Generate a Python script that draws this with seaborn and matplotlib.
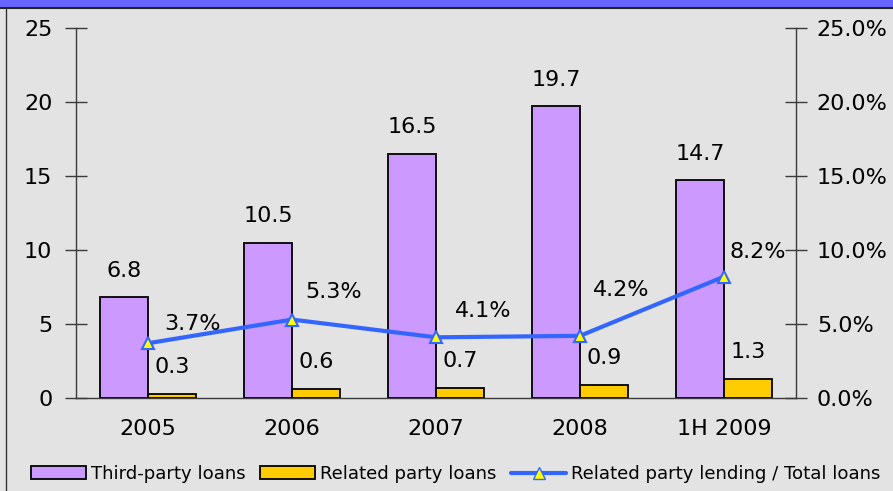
import numpy as np
import pandas as pd
import seaborn as sns
import matplotlib.pyplot as plt
from matplotlib.patches import Rectangle, Patch
from matplotlib.lines import Line2D

# data
periods = ['2005', '2006', '2007', '2008', '1H 2009']
third_party = [6.8, 10.5, 16.5, 19.7, 14.7]
related_party = [0.3, 0.6, 0.7, 0.9, 1.3]
related_ratio = [3.7, 5.3, 4.1, 4.2, 8.2]

series_names = ['Third-party loans', 'Related party loans']
ratio_name = 'Related party lending / Total loans'
bar_colors = ['#CC99FF', '#FFCC00']
line_color = '#3366FF'

df = pd.DataFrame({
    'period': periods * 2,
    'loans': third_party + related_party,
    'series': [series_names[0]] * len(periods) + [series_names[1]] * len(periods),
})

sns.set_style('white')
plt.rcParams['font.family'] = ['DejaVu Sans', 'Liberation Sans']
plt.rcParams['text.color'] = 'black'
plt.rcParams['xtick.labelcolor'] = 'black'
plt.rcParams['ytick.labelcolor'] = 'black'

bg = '#E3E3E3'
axis_col = '#3A3A3A'
fig = plt.figure(figsize=(8.93, 4.91), dpi=100, facecolor=bg)
ax = fig.add_axes([76 / 893, 1 - 398 / 491, 720 / 893, 370 / 491])
ax.set_facecolor('none')

# bars
sns.barplot(data=df, x='period', y='loans', hue='series', palette=bar_colors,
            width=0.667, gap=0, edgecolor='black', linewidth=1.3, saturation=1,
            ax=ax, legend=False)
for cont in ax.containers:
    ax.bar_label(cont, fmt='%.1f', padding=12, fontsize=16, color='black')

ax.set_xlim(-0.5, len(periods) - 0.5)
ax.set_ylim(0, 25)
ax.set_yticks(range(0, 26, 5))
ax.set_xlabel('')
ax.set_ylabel('')
ax.set_xticks(np.arange(-0.5, len(periods), 1.0), minor=True)
ax.tick_params(axis='x', which='major', length=0, pad=15, labelsize=16, labelcolor='black')
ax.tick_params(axis='x', which='minor', direction='inout', length=16, width=1, color=axis_col)
ax.tick_params(axis='y', direction='inout', length=16, width=1, color=axis_col,
               pad=9, labelsize=16, left=True, labelcolor='black')
for s in ['top', 'right']:
    ax.spines[s].set_visible(False)
for s in ['left', 'bottom']:
    ax.spines[s].set_color(axis_col)
    ax.spines[s].set_linewidth(1)

# ratio line on right axis
ax2 = ax.twinx()
sns.lineplot(x=np.arange(len(periods)), y=related_ratio, ax=ax2, color=line_color,
             linewidth=3, marker='^', markersize=9, markerfacecolor='yellow',
             markeredgecolor=line_color, markeredgewidth=1.5)
ax2.set_ylim(0, 25)
ax2.set_yticks(range(0, 26, 5))
ax2.set_yticklabels([f'{v:.1f}%' for v in range(0, 26, 5)])
ax2.tick_params(axis='y', direction='inout', length=16, width=1, color=axis_col,
                pad=7, labelsize=16, right=True, labelcolor='black')
for s in ['top', 'left', 'bottom']:
    ax2.spines[s].set_visible(False)
ax2.spines['right'].set_color(axis_col)
ax2.spines['right'].set_linewidth(1)

offsets = [(32, 14), (30, 20), (34, 19), (30, 33), (24, 18)]
for i, (v, off) in enumerate(zip(related_ratio, offsets)):
    ax2.annotate(f'{v:.1f}%', (i, v), xytext=off, textcoords='offset points',
                 ha='center', va='center', fontsize=16, color='black')

# legend
handles = [Patch(facecolor=bar_colors[0], edgecolor='black', linewidth=1.3, label=series_names[0]),
           Patch(facecolor=bar_colors[1], edgecolor='black', linewidth=1.3, label=series_names[1]),
           Line2D([], [], color=line_color, lw=3, marker='^', markersize=9,
                  markerfacecolor='yellow', markeredgecolor=line_color, label=ratio_name)]
fig.legend(handles=handles, loc='center', bbox_to_anchor=(456 / 893, 1 - 474 / 491),
           ncol=3, frameon=False, fontsize=13.1, handlelength=3, handletextpad=0.3,
           columnspacing=0.8, borderaxespad=0, labelcolor='black')

# frame decoration
fig.patches.append(Rectangle((0, 1 - 7 / 491), 1, 7 / 491, transform=fig.transFigure,
                             facecolor='#6666FF', edgecolor='none'))
fig.lines.append(Line2D([0, 1], [1 - 8 / 491] * 2, transform=fig.transFigure,
                        color='#222222', lw=1.5))
fig.lines.append(Line2D([6 / 893] * 2, [0, 1 - 8 / 491], transform=fig.transFigure,
                        color='#333333', lw=1))

fig.savefig('out.png', dpi=100, facecolor=bg)
